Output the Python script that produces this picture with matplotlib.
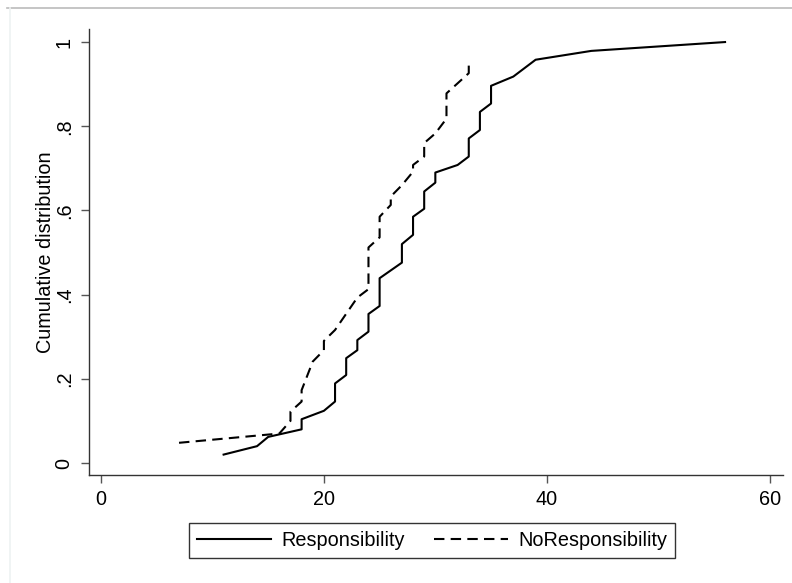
import matplotlib
matplotlib.use("Agg")
import matplotlib.pyplot as plt
from matplotlib.lines import Line2D

plt.rcParams['font.family'] = ['Liberation Sans', 'DejaVu Sans']

# Responsibility (solid)
resp_x = [11, 14, 15, 18, 18, 20, 21, 21, 22, 22, 23, 23, 24, 24, 25, 25, 27, 27,
          28, 28, 29, 29, 30, 30, 32, 33, 33, 34, 34, 35, 35, 37, 39, 44, 56]
resp_y = [0.020, 0.040, 0.062, 0.080, 0.104, 0.124, 0.146, 0.189, 0.209, 0.249,
          0.268, 0.292, 0.312, 0.354, 0.373, 0.439, 0.476, 0.520, 0.542, 0.585,
          0.604, 0.645, 0.666, 0.690, 0.708, 0.728, 0.771, 0.791, 0.834, 0.854,
          0.896, 0.918, 0.958, 0.979, 1.000]

# NoResponsibility (dashed)
nores_x = [7, 16, 17, 17, 18, 18, 19, 20, 20, 21, 23, 24, 24, 25, 25, 26, 26, 27,
           28, 28, 29, 29, 30, 31, 31, 32, 33, 33]
nores_y = [0.048, 0.070, 0.100, 0.122, 0.146, 0.173, 0.241, 0.268, 0.290, 0.316,
           0.393, 0.413, 0.512, 0.536, 0.585, 0.613, 0.633, 0.660, 0.692, 0.708,
           0.728, 0.760, 0.783, 0.818, 0.878, 0.902, 0.926, 0.953]

xticks = [0, 20, 40, 60]
yticks = [0, 0.2, 0.4, 0.6, 0.8, 1.0]
ytick_labels = ['0', '.2', '.4', '.6', '.8', '1']

FS = 14.3

fig = plt.figure(figsize=(7.92, 5.83), dpi=100)
ax = fig.add_axes([89/792, 1 - 475/583, (783 - 89)/792, (475 - 29)/583])

ax.plot(resp_x, resp_y, color='black', lw=1.5, ls='-', label='Responsibility')
ax.plot(nores_x, nores_y, color='black', lw=1.5, ls=(0, (5, 3)), label='NoResponsibility')

ax.set_xlim(-1.08, 61.2)
ax.set_ylim(-0.0285, 1.031)
ax.set_xticks(xticks)
ax.set_xticklabels([str(t) for t in xticks], fontsize=FS)
ax.set_yticks(yticks)
ax.set_yticklabels(ytick_labels, fontsize=FS, rotation=90, va='center')
ax.set_ylabel('Cumulative distribution', fontsize=FS, labelpad=0)

for s in ['top', 'right']:
    ax.spines[s].set_visible(False)
for s in ['left', 'bottom']:
    ax.spines[s].set_color('#333333')
    ax.spines[s].set_linewidth(1.0)
ax.tick_params(direction='out', length=6, width=1, color='#555555', pad=5)

leg = ax.legend(loc='lower center', bbox_to_anchor=(432/792, 25/583), bbox_transform=fig.transFigure,
                ncol=2, fontsize=FS, frameon=True, fancybox=False, handlelength=3.75,
                columnspacing=1.45, handletextpad=0.5, borderpad=0.4, borderaxespad=0)
leg.get_frame().set_edgecolor('black')
leg.get_frame().set_linewidth(1.0)

fig.add_artist(Line2D([7/792, 1], [1 - 8/583, 1 - 8/583], transform=fig.transFigure,
                      color='#bbbbbb', lw=1.2))
fig.add_artist(Line2D([10/792, 10/792], [0, 1 - 8/583], transform=fig.transFigure,
                      color='#eef2f2', lw=1.2))

fig.savefig('out.png', dpi=100)
